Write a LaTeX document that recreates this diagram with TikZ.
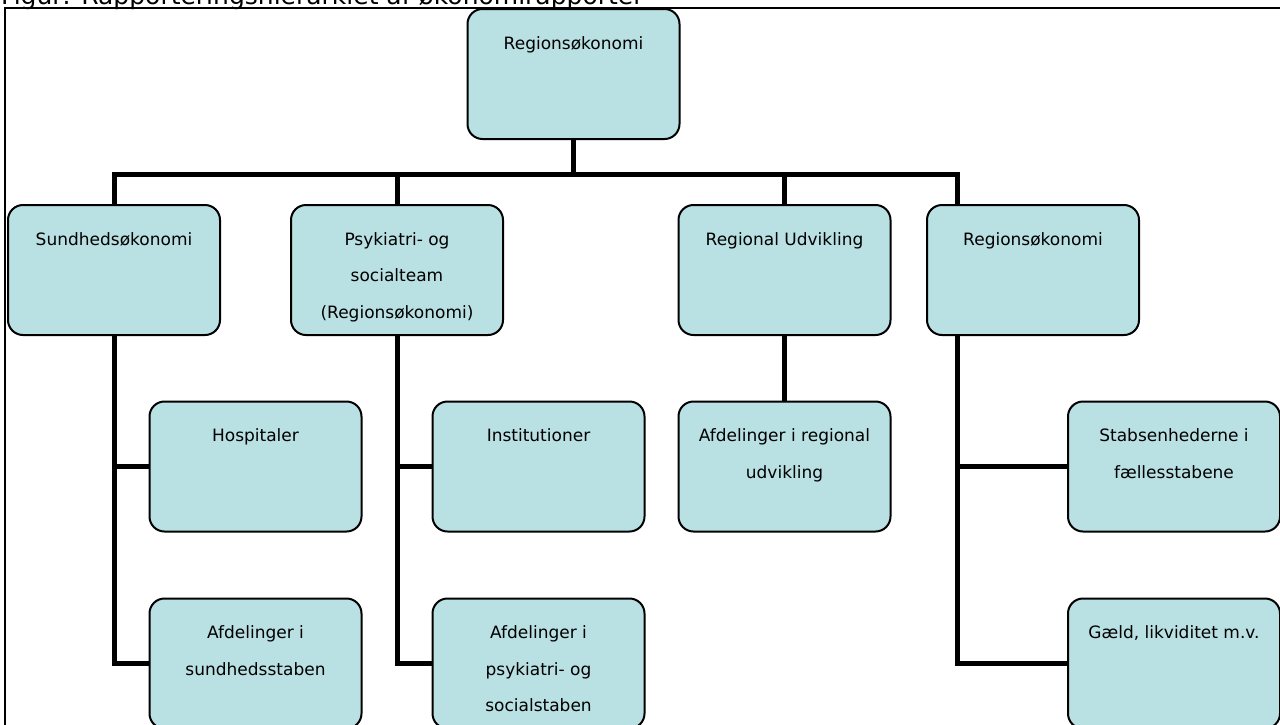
\documentclass[tikz,border=0pt]{standalone}
\usepackage{fontspec}
\setmainfont{DejaVu Sans}
\usetikzlibrary{positioning,backgrounds}
\definecolor{unitfill}{RGB}{185,224,227}
\tikzset{%
  orgunit/.style={draw, rectangle, rounded corners=15pt, line width=2pt,
    fill=unitfill, minimum width=212pt, minimum height=130pt, inner sep=0pt},% one box of the hierarchy
  unittext/.style={anchor=north, yshift=-25pt, align=center,
    font=\fontsize{17}{36.5}\selectfont},% text at the top of a box
  report/.style={line width=5pt},% reporting line
  frame/.style={line width=2pt}% page frame
}
\newcommand*{\orgunit}[4]{%
  \node[orgunit, label={[unittext]north:{#4}}] (#1) at (#2,#3) {};}

\begin{document}
\begin{tikzpicture}[x=1pt, y=-1pt]
\clip (0,0) rectangle (1280,724);
\node[anchor=base west, inner sep=0pt, font=\fontsize{25}{30}\selectfont] (title) at (1,4)
  {Figur: Rapporteringshierarkiet af økonomirapporter};
\draw[frame] (5,740) -- (5,8) -- (1300,8);

% top
\orgunit{top}{573.5}{74}{Regionsøkonomi}
% second level
\orgunit{sund}{114}{270}{Sundhedsøkonomi}
\orgunit{psyk}{397}{270}{Psykiatri- og\\socialteam\\(Regionsøkonomi)}
\orgunit{regudv}{784.5}{270}{Regional Udvikling}
\orgunit{regok}{1033}{270}{Regionsøkonomi}
% third level
\orgunit{hosp}{255.5}{466.5}{Hospitaler}
\orgunit{inst}{538.5}{466.5}{Institutioner}
\orgunit{afdreg}{784.5}{466.5}{Afdelinger i regional\\udvikling}
\orgunit{stab}{1174}{466.5}{Stabsenhederne i\\fællesstabene}
% fourth level
\orgunit{afdsund}{255.5}{663.5}{Afdelinger i\\sundhedsstaben}
\orgunit{afdpsyk}{538.5}{663.5}{Afdelinger i\\psykiatri- og\\socialstaben}
\orgunit{gaeld}{1174}{663.5}{Gæld, likviditet m.v.}

\coordinate (bus) at (573.5,174);
\coordinate (rspine) at (957,174);

\begin{scope}[on background layer]
\draw[report] (top) -- (bus);
\draw[report] (bus) -| (sund.north);
\draw[report] (bus) -| (psyk.north);
\draw[report] (bus) -| (regudv.north);
\draw[report] (bus) -- (rspine) |- (gaeld.west);
\draw[report] (rspine) |- (stab.west);
\draw[report] (sund.south) |- (hosp.west);
\draw[report] (sund.south) |- (afdsund.west);
\draw[report] (psyk.south) |- (inst.west);
\draw[report] (psyk.south) |- (afdpsyk.west);
\draw[report] (regudv) -- (afdreg);
\end{scope}
\end{tikzpicture}
\end{document}
